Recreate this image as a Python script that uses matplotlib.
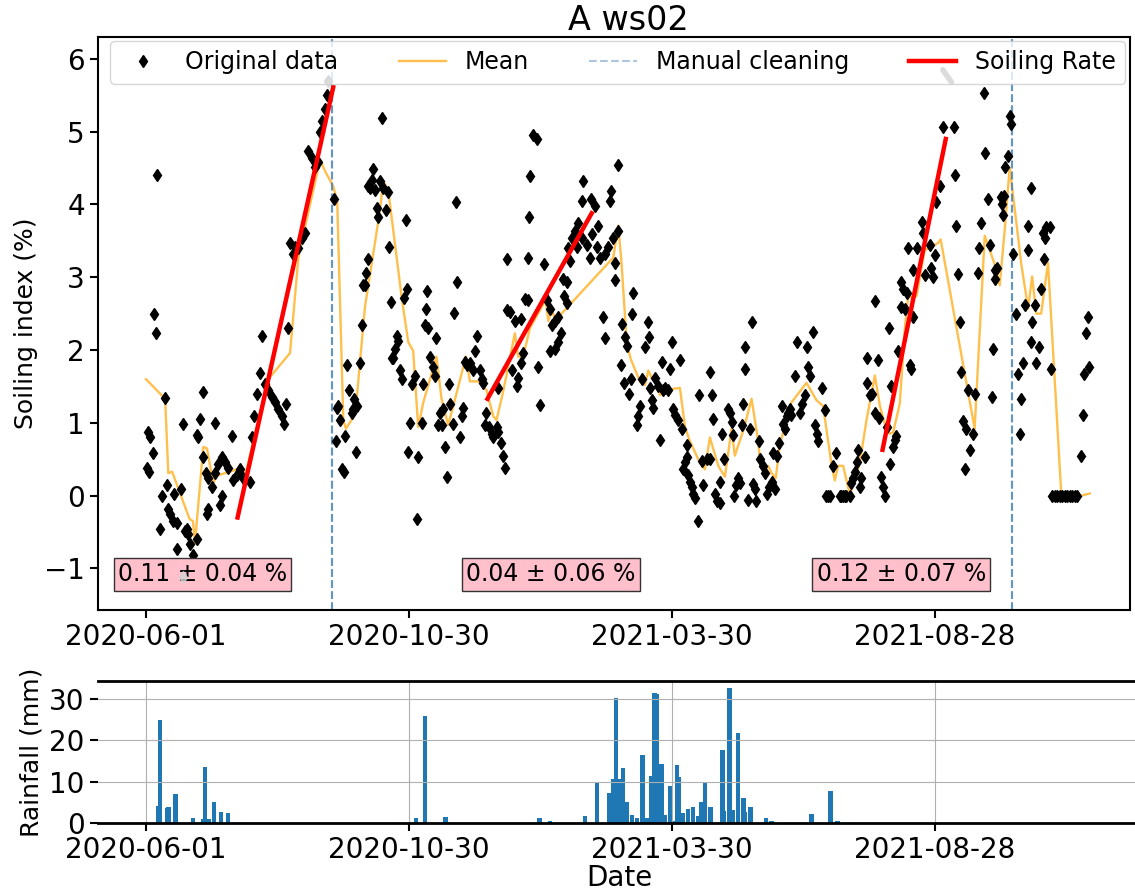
import matplotlib
matplotlib.use('Agg')
import matplotlib.pyplot as plt
import matplotlib.dates as mdates
import numpy as np

start = np.datetime64('2020-06-01')

def to_dates(days):
    return start + np.round(np.asarray(days, dtype=float) * 24).astype('timedelta64[h]')

# soiling index observations (days after 2020-06-01, %)
obs_day = [6.1, 4.8, 5.6, 10.9, 1.0, 2.3, 4.2, 0.4, 1.7, 11.9, 9.0, 12.8, 13.8, 15.7, 17.6, 8.0, 16.3, 20.1,
           23.3, 24.3, 22.4, 25.3, 27.2, 17.6, 29.1, 21.4, 31.0, 29.1, 30.0, 32.5, 32.9, 34.3, 35.8, 35.4,
           34.8, 37.7, 39.6, 41.5, 43.8, 45.4, 46.9, 42.5, 43.8, 39.6, 49.2, 50.1, 52.1, 54.0, 55.9, 59.7,
           60.7, 62.0, 63.5, 65.5, 66.4, 68.3, 70.2, 72.1, 74.1, 76.0, 77.9, 79.4, 80.2, 81.3, 82.7, 84.6,
           85.5, 87.5, 89.4, 91.3, 93.2, 95.1, 97.0, 98.9, 99.9, 100.8, 102.8, 103.7, 108.1,
           109.4, 110.4, 109.0, 111.3, 112.3, 113.6, 114.2, 115.2, 116.7, 118.0, 119.4, 120.9, 118.6, 120.5,
           122.8, 123.8, 124.7, 125.7, 126.3, 127.6, 127.6, 129.5, 130.1, 128.6, 131.4, 132.4, 133.3, 134.3,
           136.2, 137.7, 139.1, 135.8, 139.7, 140.6, 143.9, 144.8, 142.9, 142.0, 141.0, 145.8, 146.7, 148.1,
           149.6, 149.2, 152.5, 151.5, 150.6, 154.4, 156.3, 155.7, 158.2, 159.2, 161.1, 160.7, 160.1, 162.0,
           163.0, 164.9, 166.8, 165.9, 167.8, 168.8, 170.7, 169.7, 171.6, 173.0, 174.1, 174.5, 176.4, 176.8,
           177.9, 178.7, 180.2, 181.2, 182.1, 183.1, 184.1, 186.0, 187.5, 188.8, 189.8, 191.7, 192.7, 193.6,
           194.6, 195.5, 197.1, 198.4, 199.4, 201.3, 202.2, 204.1, 204.7, 206.1, 202.2, 207.0, 207.0, 208.9,
           209.9, 211.8, 212.8, 213.7, 215.6, 215.6, 216.6, 217.5,
           219.1, 219.5, 219.9, 220.5, 222.4, 224.3, 224.9, 226.2, 228.7, 230.0, 232.0, 232.9, 234.8, 236.7,
           238.3, 236.4, 234.8, 232.0, 239.6, 241.5, 240.2, 241.5, 243.4, 242.5, 244.4, 246.3, 248.2, 250.1,
           247.3, 251.1, 250.5, 255.5, 257.8, 259.7, 255.9, 253.0, 254.9, 258.7, 260.7, 263.5, 265.4, 266.4,
           267.0, 269.3, 268.3, 270.8, 271.2, 269.3, 262.6, 263.5, 273.1, 275.0, 276.0, 272.7, 274.6, 277.3,
           278.4, 279.8, 279.2, 283.6, 282.7, 281.7, 285.0, 286.5, 288.0, 288.8, 289.4, 290.3, 291.3, 292.2,
           293.8, 295.1, 296.1, 297.0, 298.0, 299.9, 300.8, 301.8, 302.8, 303.7, 305.2, 306.6, 307.5, 310.4,
           308.5, 309.5, 310.4, 311.4, 312.3, 313.3, 314.2, 315.2, 316.7, 317.5, 319.0, 320.0, 321.9, 323.8,
           323.8, 324.8, 325.7, 326.7, 327.6, 329.5, 330.5, 332.0, 333.9,
           329.5, 335.2, 336.2, 337.2, 337.5, 338.7, 340.0, 341.0, 342.0, 342.9, 343.9, 343.9, 347.7, 347.1,
           345.8, 348.6, 349.6, 350.2, 352.1, 352.8, 354.4, 355.3, 356.3, 357.8, 359.2, 360.1, 361.1, 362.4,
           363.6, 364.9, 365.9, 366.8, 367.8, 368.7, 369.7, 370.6, 372.6, 373.9, 375.4, 376.4, 378.3, 379.3,
           380.2, 381.2, 383.1, 384.0, 385.0, 386.0, 387.9, 389.8, 390.7, 391.6, 392.6, 394.6, 396.1, 398.4,
           399.3, 400.3, 401.2, 402.2, 404.1, 405.1, 406.0, 407.0, 408.0, 408.9, 409.9, 410.8, 412.7, 413.7,
           414.1, 415.6, 416.6, 418.5, 420.4, 418.5, 421.0, 422.3, 422.9, 424.2, 427.1, 425.2, 429.0, 430.9,
           429.9, 426.7, 428.0, 431.9, 433.8, 434.7, 433.8, 435.7, 436.7, 440.5, 438.6, 439.5, 437.6, 440.5,
           442.4, 445.3, 446.2,
           447.1, 450.0, 451.0, 451.9, 453.3, 453.8, 455.8, 457.7, 464.0, 464.4, 465.3, 466.3, 467.2, 468.2,
           469.1, 471.0, 472.0, 473.0, 470.5, 474.9, 475.8, 477.8, 478.1, 479.7, 481.2, 482.0, 483.5, 484.5,
           486.4, 485.8, 487.3, 488.9, 487.3, 490.8, 491.5, 492.7, 492.1, 493.4, 495.0, 495.9, 496.9, 497.9,
           499.8, 500.7, 502.3, 501.7, 503.6, 504.5, 506.5, 506.5, 508.0, 508.8, 508.4, 510.3, 511.2, 512.6,
           513.7, 515.1, 516.0, 517.0, 518.9, 515.6, 519.5, 520.2, 521.7, 523.2, 524.6, 526.0, 527.5, 529.0,
           530.4, 531.9, 533.3, 534.8, 537.1, 538.0, 538.6, 540.0, 540.9, 541.3]
obs_val = [4.40, 2.49, 2.24, 1.34, 0.87, 0.80, 0.58, 0.38, 0.33, 0.15, -0.01, -0.18, -0.25, -0.35, -0.37, -0.46, 0.02, 0.09,
           -0.46, -0.52, -0.49, -0.66, -0.81, -0.73, -0.59, 0.99, 1.06, 0.84, 0.80, 1.43, 0.53, 0.31, 0.24, -0.18,
           -0.25, 0.12, 1.00, 0.43, 0.53, 0.46, 0.38, -0.13, -0.01, 0.31, 0.82, 0.21, 0.29, 0.36, 0.24, 0.19,
           0.80, 1.09, 1.40, 1.69, 2.20, 1.53, 1.45, 1.36, 1.28, 1.19, 1.09, 0.99, 1.26, 2.30, 3.47, 3.32,
           3.42, 3.40, 3.54, 3.61, 4.73, 4.64, 4.51, 4.59, 5.00, 5.15, 5.31, 5.51, 4.08,
           1.21, 1.23, 0.75, 1.04, 0.36, 0.33, 0.82, 1.79, 1.45, 1.14, 1.33, 1.23, 1.19, 0.60,
           1.82, 2.35, 2.89, 2.89, 3.06, 3.25, 4.25, 4.34, 4.49, 4.22, 4.20, 3.95, 3.83, 4.32,
           4.22, 3.93, 4.17, 5.19, 3.41, 2.66, 2.20, 2.13, 2.01, 1.89, 1.89, 1.72, 1.60, 2.72,
           2.84, 3.78, 1.53, 1.00, 0.60, 1.65, 0.53, -0.32, 1.00, 1.53, 2.81, 2.57, 2.35, 2.30,
           1.91, 1.77, 2.16, 1.65, 0.97, 1.14, 1.19, 0.97, 0.67, 0.26, 1.54, 1.26, 0.99, 2.51,
           4.03, 2.94, 0.81, 1.09, 1.21, 1.84, 1.79, 1.82, 1.72, 1.99, 2.20, 1.72, 1.60, 1.55,
           0.97, 1.14, 0.94, 0.85, 0.80, 0.94, 0.87, 0.72, 0.55, 0.38, 1.48, 3.25, 2.55, 2.52,
           1.72, 2.40, 1.50, 1.62, 2.42, 1.82, 1.96, 2.70,
           2.69, 3.27, 3.83, 4.39, 4.95, 4.90, 1.77, 1.24, 3.18, 2.69, 2.57, 2.35, 2.40, 2.45,
           2.23, 2.11, 2.01, 1.99, 2.98, 2.93, 2.74, 2.64, 3.23, 3.40, 3.54, 3.64, 3.74, 3.54,
           3.42, 4.32, 4.05, 4.08, 3.98, 3.71, 3.59, 3.44, 3.27, 3.42, 3.27, 3.32, 3.42, 4.05,
           4.19, 3.20, 3.54, 4.54, 3.64, 2.96, 2.46, 2.17, 2.36, 2.18, 2.06, 1.79, 1.55, 1.40,
           1.60, 2.79, 2.50, 1.23, 1.09, 0.97, 1.60, 2.04, 2.38, 2.18, 1.48, 1.31, 1.21, 1.62,
           1.50, 0.77, 1.84, 1.45, 1.48, 1.45, 1.74, 2.11, 1.19, 1.11, 1.04, 1.87, 0.92, 0.70,
           0.36, 0.46, 0.53, 0.29, 0.19, 0.12, 0.02, -0.03, -0.35, 1.38, 0.48, 0.14, 0.50, 0.50,
           1.70, 1.38, 1.06, 0.02, -0.08, 0.19, 0.85, 0.50, 1.19,
           -0.10, 1.14, 1.01, 0.84, -0.01, 0.14, 0.24, 0.17, 0.97, 1.26, 1.74, 2.04, 2.38, 0.92,
           -0.06, 0.16, 0.09, -0.08, 0.75, 0.50, 0.41, 0.31, 0.02, 0.12, 0.19, 0.58, 0.09, 0.55,
           0.72, 1.23, 0.99, 0.92, 1.09, 1.14, 1.19, 1.11, 1.65, 2.11, 1.14, 1.26, 1.38, 2.04,
           1.77, 1.65, 2.25, 0.97, 0.85, 0.75, 1.48, 1.18, 0.0, 0.0, 0.0, 0.41, 0.58, 0.0,
           0.0, 0.0, 0.0, 0.0, 0.0, 0.17, 0.24, 0.33, 0.46, 0.63, 0.12, 0.24, 0.53, 1.55,
           1.89, 1.38, 1.40, 2.67, 1.87, 1.14, 1.07, 0.26, 0.12, 0.0, 0.43, 0.94, 0.67, 0.82,
           0.77, 2.30, 1.50, 1.99, 2.93, 2.84, 2.59, 2.57, 2.79, 2.45, 1.79, 1.74, 3.40, 3.10,
           3.40, 3.76, 3.61,
           3.03, 3.44, 3.13, 3.01, 3.30, 4.03, 4.25, 5.06, 5.06, 4.40, 3.71, 3.04, 2.38, 1.70,
           1.02, 0.92, 1.45, 0.63, 0.36, 0.85, 1.40, 3.06, 3.40, 3.74, 5.53, 4.71, 4.08, 3.44,
           2.01, 1.35, 3.10, 3.13, 2.98, 4.10, 4.00, 4.12, 3.86, 4.51, 4.66, 5.22, 5.10, 3.32,
           2.50, 1.67, 1.33, 0.85, 1.82, 2.62, 3.37, 3.71, 4.22, 2.38, 2.11, 2.62, 1.82, 2.04,
           2.84, 3.61, 3.54, 3.69, 3.69, 3.25, 1.74, 0.0, 0.0, 0.0, 0.0, 0.0, 0.0, 0.0,
           0.0, 0.0, 0.0, 0.0, 0.55, 1.11, 1.67, 2.23, 2.45, 1.77]

# moving mean
mean_day = [0, 11, 12.8, 15, 25, 27, 28.1, 32.9, 35, 38.7, 40, 55, 57, 70.2, 82.7, 87.5, 89.4, 99.9, 103,
            107.5, 109.8, 113.3, 114.8, 118, 120.9, 125.7, 134.3, 136.2, 139.1, 146.7, 150.6, 153.4, 156.3,
            159.2, 166.8, 169.7, 173.5, 176.4, 183.7, 186, 190.8, 195.5, 199.4, 201.3, 205.1, 211.8, 213.7,
            216.6, 220.4, 229.5, 231, 232.9, 235.8, 238.6, 268.3, 271.2, 273.1, 276, 278.4, 283.6, 286.5,
            288.4, 290.3, 293.2, 295.1, 297, 306.6, 309.5, 312.3, 317.1, 320.9, 323.8, 328.6, 332.4, 336.2,
            338.1, 342.9, 347.7, 351.5, 352.5, 354.4, 357.2, 359.2, 361.6, 363.9, 367.8, 370.6, 379.3, 385,
            388.8, 393.6, 395.5, 397.4, 400.3, 404.1, 406, 409.9, 413.7, 418.5, 421.4, 424.8, 427.1, 429,
            432.8, 435.7, 437.6, 442.4, 445.3, 447.1, 454.8, 456.3, 475.8, 481.6, 487.3, 490.2, 493.1, 495.9,
            499, 502.6, 506.5, 508.8, 511.2, 514, 517.9, 525.6, 537.1, 541.9]
mean_val = [1.60, 1.33, 0.31, 0.33, -0.32, -0.35, -0.66, 0.67, 0.65, 0.16, 0.27, 0.38, 0.28, 1.60, 1.96, 3.27, 3.49, 4.61, 4.45,
            4.25, 4.05, 1.04, 0.92, 1.04, 1.31, 2.59, 3.91, 4.32, 4.20, 2.74, 2.11, 1.99, 0.94,
            1.28, 1.91, 1.33, 0.97, 1.23, 1.91, 1.57, 1.57, 1.45, 1.09, 1.04, 1.43, 2.23, 1.91,
            1.91, 2.30, 2.69, 2.40, 2.57, 2.35, 2.50, 3.27, 3.71, 3.18, 2.11, 1.87, 1.57, 1.52,
            1.72, 1.62, 1.65, 1.38, 1.45, 1.48, 0.94, 0.75, 0.50, 0.36, 0.80, 0.41, 0.26, 0.92,
            0.55, 0.89, 1.33, 0.75, 0.50, 0.31, 0.41, 0.31, 0.24, 0.70, 1.04, 1.28, 1.55, 1.31,
            1.23, 0.43, 0.21, 0.41, 0.41, 0.02, 0.14, 0.46, 1.04, 1.65, 1.23, 0.94, 0.85, 0.87,
            1.26, 2.30, 2.72, 2.74, 3.13, 3.37, 3.47, 3.52, 0.92, 3.57, 3.18, 2.89, 3.66, 4.51,
            3.90, 3.18, 2.57, 3.01, 2.50, 2.50, 3.20, 0.0, 0.0, 0.03]

# soiling rate fits
rate_day0 = [52.6, 196.1, 422.9]
rate_day1 = [107.5, 255.9, 459.2]
rate_val0 = [-0.30, 1.33, 0.63]
rate_val1 = [5.61, 3.88, 4.90]
rate = [0.11, 0.04, 0.12]
rate_err = [0.04, 0.06, 0.07]
label_day = [-16, 184, 385]

cleaning = ['2020-09-16', '2021-10-11']

# faint grey marks visible in the original
ghost_day = [104.3, 21.0]
ghost_val = [5.70, -1.12]
ghost_seg_day = [457.5, 462.5]
ghost_seg_val = [5.85, 5.68]

# daily rainfall
rain_day = [7, 8, 12, 13, 17, 27, 33, 34, 36, 39, 43, 47, 155, 160, 172, 226, 232, 252, 259, 266, 268, 270,
            272, 274, 276, 279, 282, 285, 288, 290, 292, 293, 296, 298, 301, 303, 305, 306, 308, 311, 314,
            317, 319, 321, 324, 331, 332, 335, 337, 340, 343, 344, 347, 356, 359, 382, 393, 397]
rain_mm = [4.0, 24.9, 3.6, 3.8, 6.9, 1.1, 1.0, 13.4, 1.0, 5.1, 2.6, 2.3, 1.1, 25.9, 1.4, 1.1, 0.5, 1.6, 9.9,
           7.2, 10.5, 30.1, 10.5, 13.2, 5.1, 2.0, 1.1, 16.3, 1.3, 11.4, 31.4, 31.0, 14.3, 2.0, 8.9, 0.5, 14.1,
           11.2, 2.4, 3.4, 3.8, 1.8, 5.1, 9.9, 3.8, 17.5, 3.0, 32.6, 3.2, 21.6, 6.1, 2.6, 3.8, 1.1, 0.5, 2.1,
           7.7, 0.6]

tick_dates = ['2020-06-01', '2020-10-30', '2021-03-30', '2021-08-28']
ticks = np.array(tick_dates, dtype='datetime64[D]')

fig = plt.figure(figsize=(11.35, 8.94), dpi=100)
ax1 = fig.add_axes([0.0863, 0.3177, 0.9093, 0.6409])
ax2 = fig.add_axes([0.0863, 0.0794, 0.918, 0.1588])

ax1.plot(to_dates(obs_day), obs_val, 'kd', ms=6, label='Original data', zorder=3)
ax1.plot(to_dates(mean_day), mean_val, color='orange', alpha=0.7, lw=1.7, label='Mean', zorder=2)
for i, c in enumerate(cleaning):
    d = np.datetime64(c)
    ax1.axvline(d, color='steelblue', ls='--', lw=1.5, alpha=0.45,
                label='Manual cleaning' if i == 0 else None)
    ax1.axvline(d, color='steelblue', ls='--', lw=1.5, alpha=0.45)
    ax1.axvline(d, color='steelblue', ls='--', lw=1.5, alpha=0.45)
for i in range(len(rate)):
    ax1.plot(to_dates([rate_day0[i], rate_day1[i]]), [rate_val0[i], rate_val1[i]], color='red', lw=3.2,
             label='Soiling Rate' if i == 0 else None, zorder=4)
    ax1.text(mdates.date2num(to_dates(label_day[i])), -1.08,
             f'{rate[i]:.2f} ± {rate_err[i]:.2f} %', fontsize=17, ha='left', va='center',
             bbox=dict(boxstyle='square,pad=0.18', fc='pink', ec='#333333', lw=1), zorder=3)

ax1.plot(to_dates(ghost_day), ghost_val, 'd', color='lightgray', ms=6, alpha=0.8, zorder=6)
ax1.plot(to_dates(ghost_seg_day), ghost_seg_val, color='lightgray', lw=4, alpha=0.8,
         solid_capstyle='round', zorder=6)

ax1.legend(loc='upper left', bbox_to_anchor=(0.0116, 0, 0.984, 0.993), mode='expand', ncol=4,
           fontsize=17, borderaxespad=0, numpoints=1)

ax1.set_xlim(to_dates(-27.6), to_dates(565))
ax1.set_ylim(-1.57, 6.3)
ax1.set_yticks(range(-1, 7))
ax1.set_xticks(ticks)
ax1.xaxis.set_major_formatter(mdates.DateFormatter('%Y-%m-%d'))
ax1.tick_params(labelsize=20, width=1.5, length=6)
ax1.set_ylabel('Soiling index (%)', fontsize=18)
ax1.set_title('A ws02', fontsize=24, x=0.5136, pad=3)
for s in ax1.spines.values():
    s.set_linewidth(1.5)

ax2.bar(to_dates(rain_day), rain_mm, width=2.5, color='#1f77b4', zorder=1)
ax2.set_xlim(to_dates(-27.6), to_dates(570.6))
ax2.set_xticks(ticks)
ax2.xaxis.set_major_formatter(mdates.DateFormatter('%Y-%m-%d'))
ax2.set_yticks([0, 10, 20, 30])
ax2.grid(True)
ax2.tick_params(labelsize=20, width=1.5, length=6)
ax2.set_ylabel('Rainfall (mm)', fontsize=18)
ax2.set_xlabel('Date', fontsize=20, labelpad=0)
for s in ax2.spines.values():
    s.set_linewidth(2)
ax2.spines['left'].set_visible(False)

fig.savefig('out.png', dpi=100)
